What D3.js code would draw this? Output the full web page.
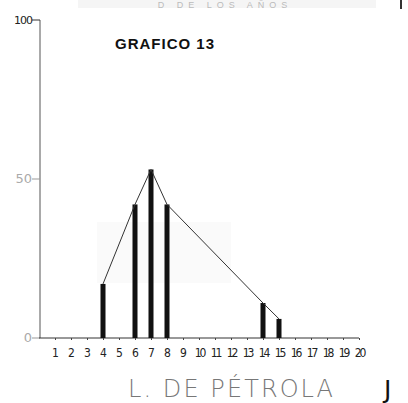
<!DOCTYPE html>
<html>
<head>
<meta charset="utf-8">
<script src="https://cdn.jsdelivr.net/npm/d3@7"></script>
<style>
  body { margin: 0; background: #fff; }
  svg { display: block; }
</style>
</head>
<body>
<svg id="chart" width="408" height="403"></svg>
<script>
// data
const positions = [4, 6, 7, 8, 14, 15];
const values = [17, 42, 53, 42, 11, 6];
const xTicks = d3.range(1, 21);
const yTicks = [0, 50, 100];

const svg = d3.select("#chart");

// x: 0..20 , y: 0..100
const x = d3.scaleLinear().domain([0, 20]).range([39, 359]);
const y = d3.scaleLinear().domain([0, 100]).range([338, 20]);

// faint scan band + cut top heading
svg.append("rect").attr("x", 78).attr("y", 0).attr("width", 298).attr("height", 8).attr("fill", "#f5f5f5");
svg.append("text").attr("x", 225).attr("y", 8).attr("text-anchor", "middle")
  .attr("font-family", "Liberation Sans").attr("font-size", 9).attr("fill", "#bbb")
  .attr("letter-spacing", 5).text("D DE LOS AÑOS");
svg.append("rect").attr("x", 400).attr("y", 0).attr("width", 2).attr("height", 9).attr("fill", "#333");
svg.append("rect").attr("x", 97).attr("y", 222).attr("width", 134).attr("height", 61).attr("fill", "#fafafa");

// title
svg.append("text").attr("x", 115).attr("y", 49)
  .attr("font-family", "Liberation Sans").attr("font-weight", "bold")
  .attr("font-size", 15).attr("letter-spacing", 1).attr("fill", "#111")
  .text("GRAFICO 13");

// y axis
svg.append("line").attr("x1", x(0)+1).attr("x2", x(0)+1).attr("y1", y(100)).attr("y2", y(0))
  .attr("stroke", "#555").attr("stroke-width", 1);
const yLab = svg.append("g").attr("font-family", "DejaVu Sans").attr("fill", "#999");
yTicks.forEach(v => {
  yLab.append("line").attr("x1", x(0)-7).attr("x2", x(0)+1).attr("y1", y(v)).attr("y2", y(v))
    .attr("stroke", v === 100 ? "#333" : "#999");
  yLab.append("text").attr("x", x(0) - 7).attr("y", y(v) + 4).attr("text-anchor", "end")
    .attr("font-size", v === 100 ? 11 : 13).attr("letter-spacing", v === 100 ? -1 : 0)
    .attr("fill", v === 100 ? "#222" : "#aaa").text(v);
});

// x axis
const xAxis = d3.axisBottom(x).tickValues(xTicks).tickSize(2).tickPadding(8);
const gx = svg.append("g").attr("transform", "translate(0," + y(0) + ")").call(xAxis);
gx.select(".domain").attr("stroke", "#333").attr("d", "M" + x(0) + ",0H" + x(20));
gx.selectAll(".tick line").attr("stroke", "#444");
gx.selectAll(".tick text").attr("font-family", "DejaVu Sans Condensed").attr("font-size", 12)
  .attr("fill", "#222").attr("letter-spacing", d => d > 9 ? -2 : 0);

// bars
svg.selectAll(".bar").data(positions).enter().append("rect").attr("class", "bar")
  .attr("x", d => x(d) - 2.5).attr("width", 5)
  .attr("y", (d, i) => y(values[i])).attr("height", (d, i) => y(0) - y(values[i]))
  .attr("fill", "#111");

// line over bar tops
const line = d3.line().x(d => x(d[0])).y(d => y(d[1]));
svg.append("path").datum(positions.map((p, i) => [p, values[i]]))
  .attr("d", line).attr("fill", "none").attr("stroke", "#333").attr("stroke-width", 1);

// axis title
svg.append("text").attr("x", 128).attr("y", 397)
  .attr("font-family", "DejaVu Sans").attr("font-weight", 200).attr("font-size", 24)
  .attr("fill", "#777").attr("textLength", 205).attr("lengthAdjust", "spacing")
  .text("L. DE PÉTROLA");
svg.append("text").attr("x", 384).attr("y", 398)
  .attr("font-family", "DejaVu Sans").attr("font-size", 25).attr("fill", "#111").text("J");
</script>
</body>
</html>
